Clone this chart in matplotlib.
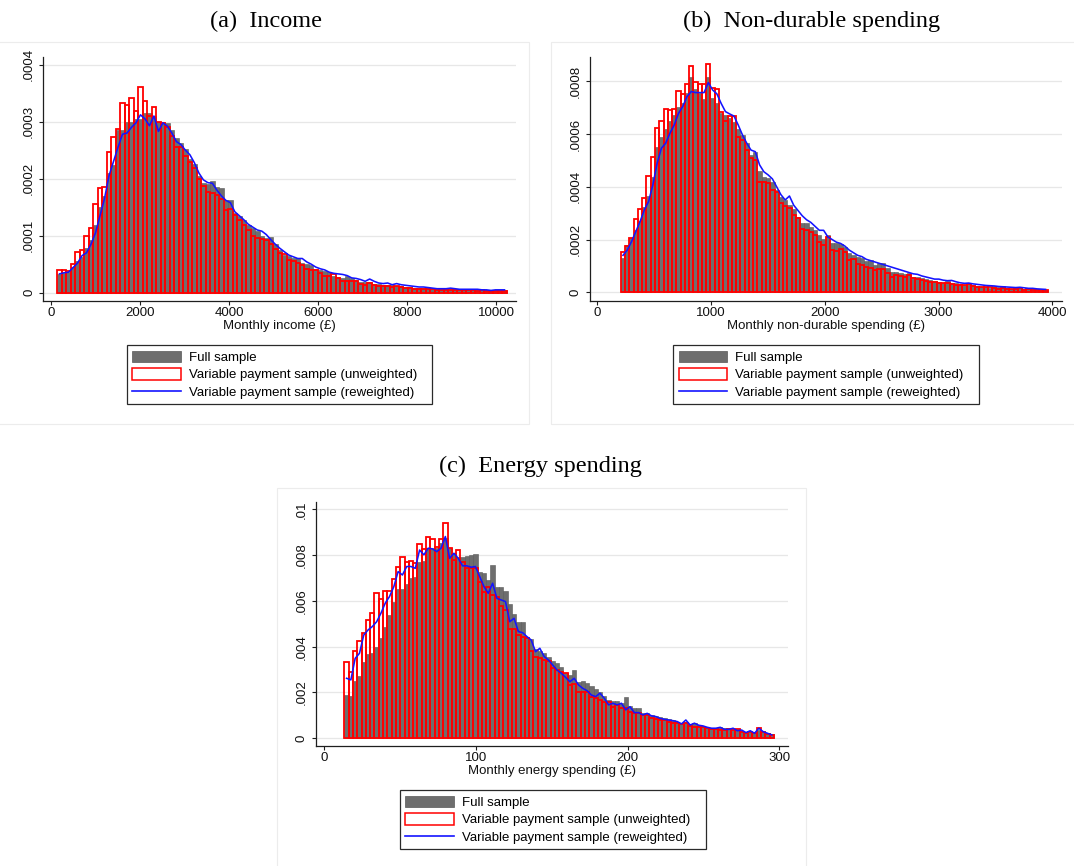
import numpy as np
import matplotlib
matplotlib.use("Agg")
import matplotlib.pyplot as plt
from matplotlib.patches import Patch, Rectangle
from matplotlib.lines import Line2D

# ---------------------------------------------------------------
# Histogram data (100 equal-width bins per variable)
# ---------------------------------------------------------------
LABELS = ["Full sample",
          "Variable payment sample (unweighted)",
          "Variable payment sample (reweighted)"]

# (a) Monthly income, densities in units of 1e-5
income_bin_start, income_bin_width = 135.0, 101.0
income_full = [3.3, 3.4, 3.6, 4.5, 5.5, 6.2, 7.8, 9.3, 11.8, 15.0,
               17.0, 21.0, 22.4, 28.5, 28.5, 30.0, 30.0, 30.5, 30.5, 31.6,
               31.5, 31.0, 30.0, 30.0, 29.7, 28.6, 27.2, 26.2, 25.2, 23.5,
               22.5, 20.5, 19.2, 19.0, 19.6, 18.5, 18.4, 16.2, 16.2, 14.0,
               13.5, 12.8, 11.8, 11.3, 10.8, 10.0, 9.6, 9.7, 8.6, 7.5,
               6.6, 6.4, 6.0, 6.1, 5.2, 5.0, 4.8, 4.2, 4.0, 3.8,
               3.7, 3.0, 2.8, 2.6, 2.9, 2.6, 2.2, 1.9, 1.8, 1.9,
               1.6, 1.5, 1.4, 1.3, 1.3, 1.2, 1.2, 1.0, 1.0, 0.9,
               0.9, 0.8, 0.8, 0.7, 0.7, 0.7, 0.6, 0.6, 0.6, 0.6,
               0.5, 0.5, 0.5, 0.5, 0.5, 0.4, 0.4, 0.4, 0.4, 0.4]
income_unweighted = [3.9, 3.9, 3.8, 5.0, 7.2, 7.5, 9.9, 11.4, 15.5, 18.4,
                     18.5, 24.7, 27.4, 28.7, 33.3, 33.0, 34.2, 31.8, 36.0, 33.6,
                     31.0, 32.5, 30.0, 29.8, 29.0, 27.5, 25.6, 25.6, 24.0, 23.0,
                     21.8, 20.0, 18.7, 17.7, 17.5, 17.2, 16.5, 14.5, 14.7, 13.7,
                     12.8, 11.8, 11.0, 10.0, 9.6, 9.5, 9.2, 8.5, 7.6, 7.0,
                     6.8, 5.8, 5.6, 5.2, 4.9, 4.2, 4.0, 4.0, 3.5, 3.0,
                     3.0, 3.2, 2.5, 2.1, 2.1, 2.1, 2.1, 1.5, 1.3, 1.7,
                     1.4, 1.2, 1.1, 1.2, 1.0, 1.1, 1.0, 0.8, 0.8, 0.7,
                     0.7, 0.6, 0.6, 0.6, 0.5, 0.5, 0.5, 0.4, 0.5, 0.4,
                     0.4, 0.4, 0.4, 0.3, 0.4, 0.3, 0.3, 0.3, 0.3, 0.3]
income_reweighted = [3.3, 3.5, 3.6, 4.4, 5.2, 6.5, 7.0, 8.5, 10.5, 13.5,
                     16.5, 20.5, 23.0, 25.5, 27.8, 28.0, 29.0, 29.8, 31.2, 30.5,
                     29.3, 31.0, 28.3, 29.8, 29.2, 28.0, 26.5, 26.0, 25.0, 24.2,
                     22.8, 21.0, 19.8, 19.3, 19.2, 18.0, 17.0, 16.2, 15.8, 14.2,
                     13.5, 12.8, 12.0, 11.5, 11.0, 10.8, 10.2, 9.3, 8.5, 7.8,
                     7.2, 6.6, 6.3, 6.0, 6.0, 5.4, 5.0, 4.5, 4.2, 4.0,
                     3.6, 3.4, 3.3, 3.2, 3.0, 2.6, 2.5, 2.3, 2.0, 2.4,
                     2.0, 1.7, 1.6, 1.7, 1.4, 1.6, 1.4, 1.3, 1.2, 1.1,
                     1.0, 1.0, 0.9, 0.8, 0.7, 0.7, 0.7, 0.8, 0.7, 0.6,
                     0.6, 0.6, 0.6, 0.6, 0.5, 0.5, 0.4, 0.5, 0.5, 0.5]
income_xticks = [0, 2000, 4000, 6000, 8000, 10000]
income_yticks = [0, 0.0001, 0.0002, 0.0003, 0.0004]
income_ylabels = ["0", ".0001", ".0002", ".0003", ".0004"]

# (b) Monthly non-durable spending, densities in units of 1e-5
nondur_bin_start, nondur_bin_width = 208.0, 37.5
nondur_full = [13.1, 17.9, 20.5, 23.6, 27.2, 32.5, 36.5, 43.8, 55.2, 58.7,
               61.8, 65.1, 67.2, 70.1, 71.6, 75.4, 81.5, 76.9, 75.4, 73.2,
               81.5, 73.5, 71.6, 68.1, 67.2, 65.9, 64.7, 61.8, 59.6, 56.5,
               52.1, 53.3, 46.1, 43.8, 43.2, 41.9, 38.8, 36.3, 35.0, 33.1,
               31.5, 28.7, 26.4, 26.2, 24.9, 23.6, 21.7, 20.1, 21.7, 18.8,
               18.8, 18.3, 17.3, 14.8, 14.2, 13.3, 12.9, 12.0, 12.3, 10.4,
               11.0, 11.0, 9.1, 7.8, 7.8, 7.2, 6.9, 7.2, 5.9, 5.9,
               5.3, 4.9, 4.7, 4.4, 4.0, 3.7, 4.4, 3.7, 3.4, 3.2,
               2.8, 3.2, 2.8, 2.4, 2.1, 2.1, 1.5, 2.4, 1.9, 2.4,
               1.5, 1.4, 1.5, 1.6, 1.4, 1.4, 1.1, 1.1, 1.0, 0.9]
nondur_unweighted = [15.2, 17.7, 20.7, 27.7, 31.5, 35.6, 44.1, 51.4, 62.2, 65.1,
                     69.4, 69.1, 69.4, 76.4, 75.2, 78.8, 85.8, 79.8, 78.8, 78.8,
                     86.4, 77.6, 76.9, 68.5, 64.9, 66.8, 66.8, 58.7, 57.7, 53.9,
                     50.8, 50.2, 41.9, 41.9, 41.6, 38.8, 38.2, 33.7, 32.7, 31.8,
                     29.3, 28.0, 23.9, 23.6, 23.0, 21.7, 19.2, 17.9, 21.1, 16.0,
                     15.8, 16.3, 15.4, 12.3, 12.5, 10.6, 10.4, 9.5, 9.1, 8.5,
                     8.7, 8.7, 7.2, 5.9, 6.6, 6.2, 5.7, 6.6, 5.3, 5.1,
                     4.7, 4.4, 4.0, 4.0, 3.4, 3.4, 3.7, 3.2, 2.9, 2.7,
                     2.7, 3.0, 2.4, 2.1, 2.1, 1.9, 1.9, 1.6, 1.4, 1.6,
                     1.3, 1.3, 1.3, 1.5, 1.0, 1.1, 1.0, 1.0, 0.9, 0.9]
nondur_reweighted = [14.0, 16.0, 19.2, 23.0, 26.8, 31.2, 34.4, 40.7, 48.9, 54.6,
                     56.5, 60.3, 63.4, 67.8, 70.4, 74.2, 76.1, 75.7, 75.7, 75.7,
                     79.5, 76.7, 75.2, 71.6, 68.5, 67.6, 66.8, 63.4, 59.6, 56.5,
                     53.9, 53.3, 48.3, 45.7, 44.5, 43.0, 40.0, 37.0, 35.0, 36.5,
                     33.0, 31.0, 29.0, 27.5, 26.5, 25.0, 23.5, 23.5, 21.0, 20.0,
                     19.0, 18.5, 17.5, 16.0, 15.0, 14.0, 13.5, 12.5, 12.0, 11.5,
                     11.0, 10.5, 10.0, 9.5, 9.0, 8.5, 8.0, 7.5, 7.0, 6.8,
                     6.2, 5.8, 5.4, 5.0, 5.0, 4.6, 4.4, 4.5, 4.0, 3.6,
                     3.4, 3.5, 3.2, 3.0, 2.8, 2.6, 2.5, 2.4, 2.2, 2.1,
                     2.0, 1.9, 1.8, 1.9, 1.7, 1.5, 1.5, 1.3, 1.2, 1.1]
nondur_xticks = [0, 1000, 2000, 3000, 4000]
nondur_yticks = [0, 0.0002, 0.0004, 0.0006, 0.0008]
nondur_ylabels = ["0", ".0002", ".0004", ".0006", ".0008"]

# (c) Monthly energy spending, densities in units of 1e-4
energy_bin_start, energy_bin_width = 13.4, 2.83
energy_full = [18.9, 18.5, 25.2, 27.2, 33.5, 36.8, 37.1, 40.0, 43.7, 48.5,
               53.9, 59.7, 65.1, 65.1, 67.4, 69.9, 70.3, 77.1, 77.6, 83.3,
               83.0, 83.0, 85.2, 87.6, 83.0, 80.8, 79.3, 79.3, 79.6, 80.1,
               80.3, 72.8, 72.1, 69.1, 75.7, 66.2, 66.2, 64.5, 58.5, 54.3,
               50.9, 50.7, 44.4, 43.2, 38.9, 38.3, 37.4, 35.4, 33.9, 32.8,
               31.3, 28.7, 27.7, 29.8, 24.7, 25.2, 24.0, 22.9, 21.4, 20.4,
               18.5, 16.7, 16.4, 16.4, 15.3, 18.2, 14.1, 13.4, 13.1, 11.2,
               11.2, 10.2, 9.8, 9.2, 8.7, 8.3, 8.0, 7.3, 6.8, 7.3,
               6.3, 6.8, 5.8, 5.4, 5.1, 4.4, 4.4, 4.8, 4.4, 4.4,
               3.9, 3.9, 3.3, 2.9, 2.9, 2.9, 3.6, 3.3, 2.5, 1.9]
energy_unweighted = [33.2, 28.8, 38.1, 42.5, 45.9, 51.7, 54.6, 63.3, 60.7, 64.3,
                     64.3, 69.4, 75.0, 79.3, 77.1, 77.4, 76.7, 84.7, 82.5, 88.1,
                     86.9, 83.4, 86.9, 94.2, 83.0, 77.9, 82.2, 77.1, 74.2, 74.2,
                     74.2, 68.4, 64.0, 66.2, 62.6, 61.9, 57.9, 56.0, 47.6, 47.6,
                     45.1, 44.4, 44.0, 38.3, 35.7, 34.9, 34.2, 33.9, 30.9, 29.8,
                     29.1, 28.4, 23.3, 23.7, 20.1, 20.1, 20.4, 18.2, 17.5, 16.7,
                     16.0, 16.0, 13.8, 14.6, 13.4, 13.1, 11.6, 11.2, 10.9, 10.2,
                     10.2, 8.7, 8.3, 8.0, 8.0, 7.3, 6.8, 6.6, 6.3, 6.6,
                     5.4, 5.1, 4.8, 4.8, 4.4, 3.9, 3.9, 3.6, 3.6, 3.9,
                     3.6, 3.9, 2.9, 2.5, 2.9, 2.2, 4.4, 2.9, 1.9, 1.5]
energy_reweighted = [26.2, 25.5, 34.9, 37.1, 45.1, 47.3, 48.8, 50.9, 54.6, 59.0,
                     61.9, 66.2, 72.8, 71.3, 75.0, 75.0, 74.2, 82.2, 80.1, 83.0,
                     82.7, 81.5, 83.0, 88.1, 78.6, 80.8, 78.6, 75.3, 75.3, 74.7,
                     75.0, 70.6, 66.2, 63.3, 67.7, 61.1, 60.4, 59.7, 50.9, 52.4,
                     46.6, 46.1, 44.4, 42.9, 37.8, 39.3, 35.7, 34.2, 32.0, 29.8,
                     28.4, 26.6, 24.7, 26.2, 23.3, 21.8, 20.8, 18.9, 18.2, 19.7,
                     17.5, 14.6, 15.3, 14.6, 15.3, 12.4, 13.8, 11.2, 11.2, 10.2,
                     10.9, 9.8, 9.5, 8.7, 8.3, 8.0, 7.7, 7.3, 6.3, 8.0,
                     5.8, 6.6, 5.7, 5.4, 4.8, 4.4, 4.4, 4.8, 3.9, 3.9,
                     4.4, 3.3, 3.6, 2.5, 3.3, 2.2, 4.4, 2.9, 2.2, 1.5]
energy_xticks = [0, 100, 200, 300]
energy_yticks = [0, 0.002, 0.004, 0.006, 0.008, 0.01]
energy_ylabels = ["0", ".002", ".004", ".006", ".008", ".01"]

# ---------------------------------------------------------------
# Style
# ---------------------------------------------------------------
W, H, DPI = 1074, 866, 100
GRAY = "#6e6e6e"
GRAY_EDGE = "#585858"
RED = "#ff0000"
BLUE = "#1414ff"
GRID = "#e7e7e7"
AXIS = "#1e1e1e"
SANS = ["Liberation Sans", "DejaVu Sans"]
SERIF = ["Liberation Serif", "DejaVu Serif"]
FS = 9.5

plt.rcParams["font.family"] = SANS
plt.rcParams["font.size"] = FS

fig = plt.figure(figsize=(W / DPI, H / DPI), dpi=DPI)
fig.patch.set_facecolor("white")


def px_axes(left, top, right, bottom):
    return fig.add_axes([left / W, 1 - bottom / H, (right - left) / W, (bottom - top) / H])


def region_frame(left, top, right, bottom):
    fig.patches.append(Rectangle((left / W, 1 - bottom / H), (right - left) / W,
                                 (bottom - top) / H, transform=fig.transFigure,
                                 fill=False, edgecolor="#ececec", linewidth=0.8,
                                 zorder=0))


def draw_panel(ax, start, width, full, unweighted, reweighted, unit,
               xticks, yticks, ylabels, xlim, ylim, xlabel):
    n = len(full)
    lefts = start + width * np.arange(n)
    centers = lefts + width / 2
    ax.bar(lefts, np.asarray(full) * unit, width=width, align="edge",
           color=GRAY, edgecolor=GRAY_EDGE, linewidth=0.4, zorder=2)
    ax.bar(lefts, np.asarray(unweighted) * unit, width=width, align="edge",
           fill=False, edgecolor=RED, linewidth=1.3, zorder=3)
    ax.plot(centers, np.asarray(reweighted) * unit, color=BLUE, linewidth=1.15,
            zorder=4)

    ax.set_xlim(*xlim)
    ax.set_ylim(*ylim)
    ax.set_xticks(xticks)
    ax.set_xticklabels([str(t) for t in xticks])
    ax.set_yticks(yticks)
    ax.set_yticklabels(ylabels, rotation=90, va="center")
    ax.yaxis.grid(True, color=GRID, linewidth=0.9)
    ax.set_axisbelow(True)
    for side in ("top", "right"):
        ax.spines[side].set_visible(False)
    for side in ("left", "bottom"):
        ax.spines[side].set_color(AXIS)
        ax.spines[side].set_linewidth(0.9)
    ax.tick_params(axis="both", direction="out", length=3.0, width=0.8,
                   color=AXIS, labelsize=FS, labelcolor="#111111")
    ax.tick_params(axis="x", pad=1.5)
    ax.tick_params(axis="y", pad=3.0)
    ax.set_xlabel(xlabel, fontsize=FS, labelpad=0.5, color="#111111")
    ax.set_facecolor("white")


def draw_legend(left, top, right, bottom):
    handles = [Patch(facecolor=GRAY, edgecolor=GRAY_EDGE, linewidth=0.5),
               Patch(facecolor="white", edgecolor=RED, linewidth=1.1),
               Line2D([], [], color=BLUE, linewidth=1.2)]
    leg = fig.legend(handles, LABELS, loc="upper left",
                     bbox_to_anchor=(left / W, 1 - bottom / H, (right - left) / W,
                                     (bottom - top) / H),
                     mode="expand", borderaxespad=0, fontsize=FS,
                     frameon=True, fancybox=False, shadow=False,
                     borderpad=0.42, handlelength=3.7, handleheight=1.0,
                     handletextpad=0.6, labelspacing=0.3)
    fr = leg.get_frame()
    fr.set_edgecolor("#2a2a2a")
    fr.set_linewidth(0.9)
    fr.set_facecolor("white")
    fr.set_alpha(1)
    return leg


# Light frames around each sub-graph region
region_frame(-5, 42, 529, 424)
region_frame(551, 42, 1085, 424)
region_frame(277, 488, 806, 880)

# (a) Income
ax_a = px_axes(43.4, 56.7, 516, 301)
draw_panel(ax_a, income_bin_start, income_bin_width, income_full,
           income_unweighted, income_reweighted, 1e-5,
           income_xticks, income_yticks, income_ylabels,
           (-177.5, 10443), (-1.456e-5, 4.14e-4), "Monthly income (£)")
fig.text(266 / W, 1 - 27.3 / H, "(a)  Income", family=SERIF, fontsize=17.5,
         ha="center", va="baseline")
draw_legend(126.7, 345, 432, 406)

# (b) Non-durable spending
ax_b = px_axes(590, 56.7, 1061.7, 301)
draw_panel(ax_b, nondur_bin_start, nondur_bin_width, nondur_full,
           nondur_unweighted, nondur_reweighted, 1e-5,
           nondur_xticks, nondur_yticks, nondur_ylabels,
           (-63, 4081), (-3.3e-5, 8.93e-4), "Monthly non-durable spending (£)")
fig.text(812 / W, 1 - 27.3 / H, "(b)  Non-durable spending", family=SERIF,
         fontsize=17.5, ha="center", va="baseline")
draw_legend(673, 345, 979, 406)

# (c) Energy spending
ax_c = px_axes(316.3, 501.7, 788, 746)
draw_panel(ax_c, energy_bin_start, energy_bin_width, energy_full,
           energy_unweighted, energy_reweighted, 1e-4,
           energy_xticks, energy_yticks, energy_ylabels,
           (-5.14, 305.7), (-3.36e-4, 0.01033), "Monthly energy spending (£)")
fig.text(540 / W, 1 - 471.7 / H, "(c)  Energy spending", family=SERIF,
         fontsize=17.5, ha="center", va="baseline")
draw_legend(399.5, 790, 706, 851)

fig.savefig("out.png", dpi=DPI, facecolor="white")
